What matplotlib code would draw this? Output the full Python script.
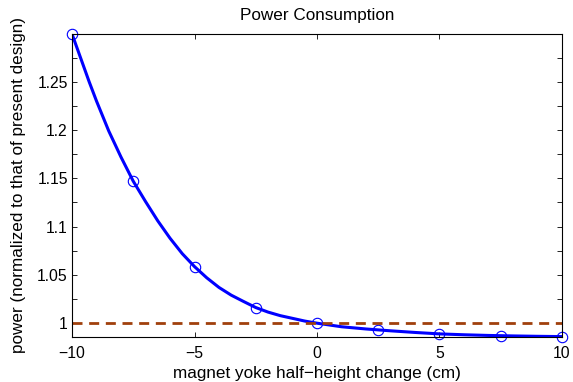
import numpy as np
import matplotlib
matplotlib.use('Agg')
import matplotlib.pyplot as plt
from matplotlib.ticker import MultipleLocator, FixedLocator

plt.rcParams['font.family'] = ['Liberation Sans', 'DejaVu Sans']

# computed design points (markers)
x_pts = [-10, -7.5, -5, -2.5, 0, 2.5, 5, 7.5, 10]
y_pts = [1.2995, 1.147, 1.0586, 1.0162, 1.0, 0.9931, 0.9889, 0.9872, 0.9861]

# smooth curve, values
x_curve = [-10, -9.3, -9, -8.5, -8, -7.5, -7, -6.5, -6, -5.5, -5, -4.5, -4, -3.5,
           -3, -2.5, -2, -1.5, -1, -0.5, 0, 1, 2, 3, 4, 5, 6, 7, 8, 9, 10]
y_curve = [1.2995, 1.250, 1.230, 1.199, 1.172, 1.147, 1.126, 1.106, 1.088, 1.072,
           1.0586, 1.047, 1.037, 1.029, 1.0225, 1.0162, 1.0115, 1.0078, 1.0050,
           1.0022, 1.0, 0.9963, 0.9940, 0.9921, 0.9904, 0.9889, 0.9880, 0.9873,
           0.9868, 0.9864, 0.9861]

ref_level = 1.0

fig = plt.figure(figsize=(5.73, 3.82), dpi=100)
ax = fig.add_axes([0.1257, 0.1186, 0.855, 0.7924])

ax.plot(x_curve, y_curve, color='#0000FF', lw=2.2)
ax.plot(x_pts, y_pts, 'o', mfc='none', mec='#0000FF', ms=7.5, mew=0.8, clip_on=False)
ax.axhline(ref_level, color='#A0400C', lw=2, dashes=(3.6, 2.4))

ax.set_xlim(-10, 10)
ax.set_ylim(0.986, 1.2995)
ax.xaxis.set_major_locator(MultipleLocator(5))
ax.yaxis.set_major_locator(FixedLocator([1, 1.05, 1.1, 1.15, 1.2, 1.25]))
ax.yaxis.set_minor_locator(FixedLocator([1.025, 1.075, 1.125, 1.175, 1.225, 1.275]))
ax.set_yticklabels(['1', '1.05', '1.1', '1.15', '1.2', '1.25'])
ax.tick_params(which='both', direction='in', top=True, right=True, labelsize=11.3,
               length=3.5, width=0.6)
ax.tick_params(axis='x', pad=7)
ax.tick_params(axis='y', pad=3)
for s in ax.spines.values():
    s.set_linewidth(0.8)

ax.set_title('Power Consumption', fontsize=12.3, pad=10)
ax.set_xlabel('magnet yoke half\u2212height change (cm)', fontsize=12.3, labelpad=3)
ax.set_ylabel('power (normalized to that of present design)', fontsize=12.3, labelpad=8)

fig.savefig('out.png', dpi=100)
